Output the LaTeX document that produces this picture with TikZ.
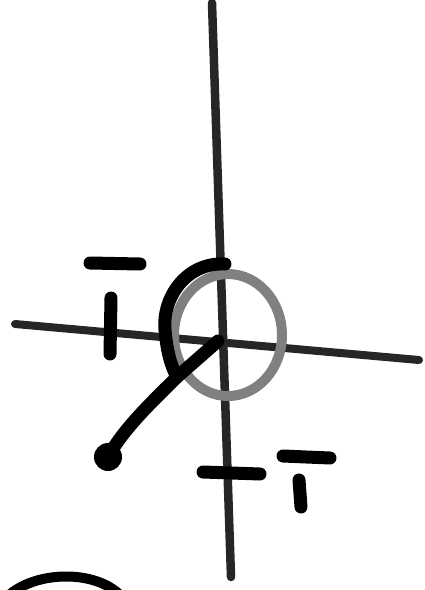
\documentclass[tikz,border=0pt]{standalone}

\begin{document}
\begin{tikzpicture}[x=1pt,y=-1pt,
  axisline/.style={draw=black!85,line width=8.5pt,line cap=round},
  inkline/.style={draw=black,line width=13pt,line cap=round},
  tickbar/.style={draw=black,line width=13pt,line cap=round}]
  \clip (0,0) rectangle (425,590);
  % axes
  \coordinate (ytop) at (212,3);
  \coordinate (ybot) at (231,577);
  \coordinate (xleft) at (15,324);
  \coordinate (xright) at (419,360);
  \coordinate (o) at (218,341);
  \draw[axisline] (ytop) -- (ybot);
  \draw[axisline, line width=8pt] (xleft) -- (xright);
  % grey circle
  \coordinate (c) at (228,335);
  \draw[black!50, line width=10pt] (c) ellipse [x radius=54, y radius=61];
  % black arc and arm
  \coordinate (arctop) at (225,264);
  \coordinate (arcleft) at (165,330);
  \coordinate (arcend) at (177,377);
  \coordinate (tip) at (108,457);
  \draw[inkline] (arctop) .. controls (186,262) and (162,298) .. (arcleft)
    .. controls (167,352) and (171,366) .. (arcend);
  \draw[inkline] (o) -- (arcend) .. controls (152,402) and (124,428) .. (tip);
  \fill (tip) circle (14);
  % ticks
  \coordinate (lbarl) at (90,263);
  \coordinate (lbarr) at (140,264);
  \coordinate (ltickt) at (111,298);
  \coordinate (ltickb) at (110,354);
  \draw[tickbar] (lbarl) -- (lbarr);
  \draw[tickbar] (ltickt) -- (ltickb);
  \coordinate (btickl) at (203,472);
  \coordinate (btickr) at (260,474);
  \coordinate (rbarl) at (283,456);
  \coordinate (rbarr) at (330,458);
  \coordinate (ronet) at (299,480);
  \coordinate (roneb) at (301,507);
  \draw[tickbar] (btickl) -- (btickr);
  \draw[tickbar] (rbarl) -- (rbarr);
  \draw[tickbar] (ronet) -- (roneb);
  % arc at the bottom
  \coordinate (bl) at (8,596);
  \coordinate (br) at (121,596);
  \draw[black, line width=10pt] (bl) .. controls (35,571) and (95,569) .. (br);
\end{tikzpicture}
\end{document}
